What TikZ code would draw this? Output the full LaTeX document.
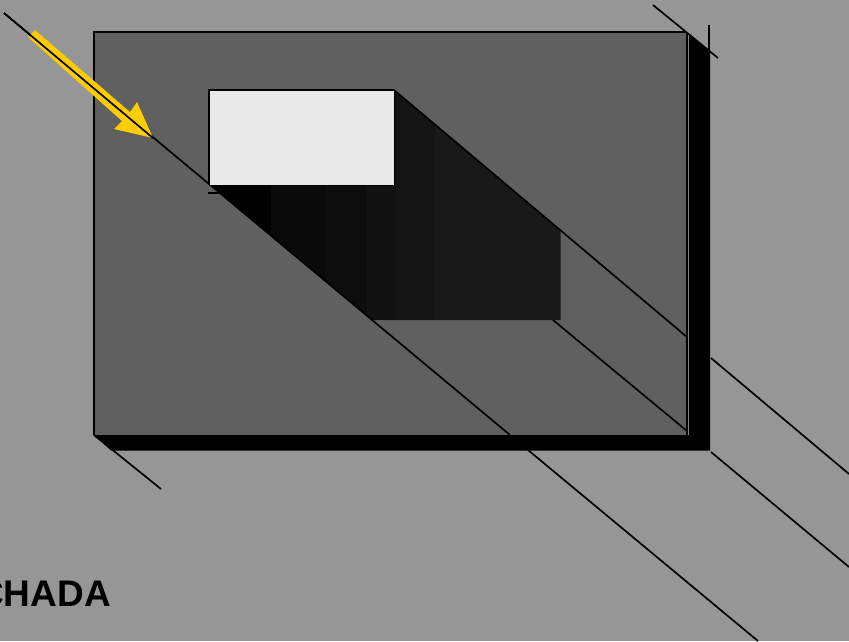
\documentclass[tikz,border=0pt]{standalone}
\usepackage{fontspec}
\setmainfont{Liberation Sans}
\definecolor{bgc}{HTML}{969696}
\definecolor{wallc}{HTML}{606060}
\definecolor{winc}{HTML}{E9E9E9}
\definecolor{arrowc}{HTML}{FFCC00}
\tikzset{ray/.style={draw=black,line width=1.7pt},outl/.style={draw=black,line width=1.9pt}}
\begin{document}
\begin{tikzpicture}[x=1pt,y=-1pt]
\useasboundingbox (0,0) rectangle (849,641);
\clip (0,0) rectangle (849,641);
\fill[bgc] (0,0) rectangle (849,641);
% black side of the wall
\fill[black] (686,32) -- (710,52) -- (710,450.5) -- (111,450.5) -- (94,435) -- cycle;
% wall
\fill[wallc] (94,32) rectangle (687,435);
\draw[outl] (94,435) -- (94,32) -- (687,32);
\draw[black,line width=0.8pt] (94,435) -- (687,435);
\draw[black,line width=1pt] (686.5,32) -- (686.5,435);
\draw[bgc!70!wallc,line width=0.6pt] (688,34) -- (688,435);
% shadow with stepped tones
\begin{scope}
\clip (394,90) -- (560.5,231) -- (560.5,320) -- (373,320) -- (210,184) -- (394,184) -- cycle;
\fill[black] (205,85) rectangle (271,325);
\fill[black!96] (271,85) rectangle (326,325);
\fill[black!95] (326,85) rectangle (367,325);
\fill[black!93] (367,85) rectangle (397,325);
\fill[black!92] (397,85) rectangle (435,325);
\fill[black!90] (435,85) rectangle (565,325);
\end{scope}
% rays
\draw[ray] (4,13) -- (510,435);
\draw[ray] (528,450) -- (758,641);
\draw[ray] (653,5) -- (718,58);
\draw[ray] (394,90) -- (687,337);
\draw[ray] (711,358) -- (849,474);
\draw[ray] (553,320) -- (687,431);
\draw[ray] (711,452) -- (849,567);
\draw[ray] (94,435) -- (161,489);
\draw[ray] (709,25) -- (709,55);
\draw[ray] (208,193) -- (222,193);
% window
\fill[winc] (209,90) rectangle (394,185);
\draw[outl] (209,185) -- (209,90) -- (394.5,90) -- (394.5,185);
\draw[black,line width=1pt] (209,185) -- (394.5,185);
% sun arrow
\fill[arrowc] (35,30) -- (130,112) -- (137,102) -- (153,138) -- (114,129) -- (122,121) -- (28,37) -- cycle;
\draw[ray] (4,13) -- (153,138);
% label
\node[anchor=base east,inner sep=0pt,font=\bfseries\fontsize{37}{37}\selectfont,text=black] (label) at (111,606) {CHADA};
\end{tikzpicture}
\end{document}
